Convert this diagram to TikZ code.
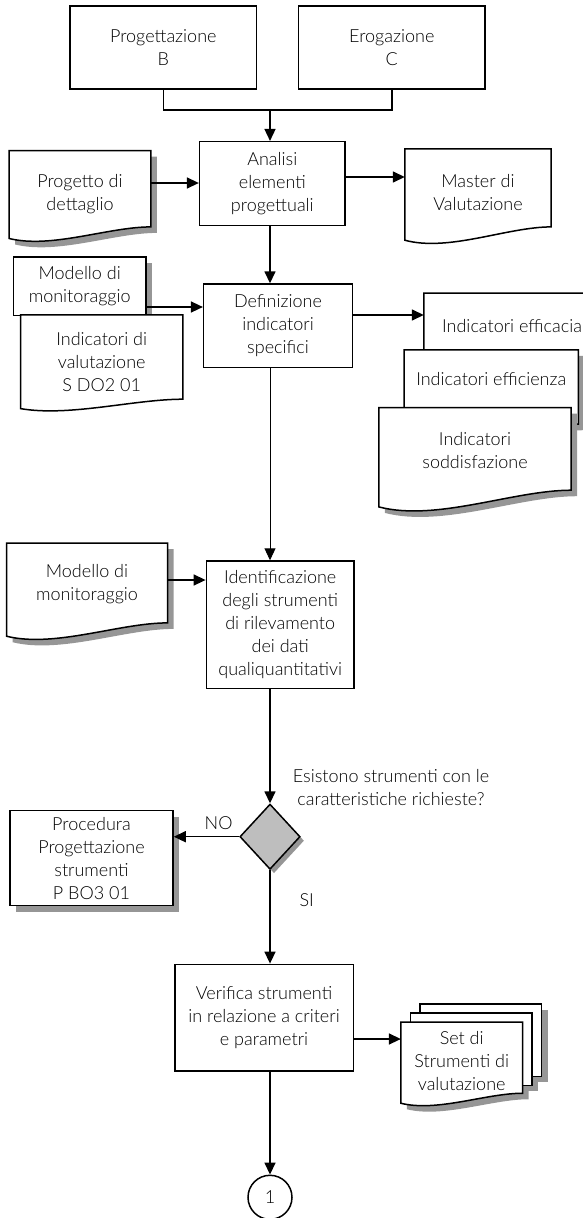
\documentclass[tikz,border=0pt]{standalone}
\usepackage{fontspec}
\setmainfont{Lato}[UprightFont=* Light]
\usepackage {tikz}
\usetikzlibrary {positioning}
\usetikzlibrary{shapes.geometric}
\usetikzlibrary{arrows.meta}
\usetikzlibrary{calc}
\usetikzlibrary{shadows}
\usetikzlibrary{backgrounds}

\definecolor{ombra}{RGB}{150,150,150}
\definecolor{rombo}{RGB}{190,190,190}

% contorno di un documento: #2 = discesa lato destro, #3 = discesa lato sinistro
\newcommand{\bordo}[3]{(#1.north west) -- (#1.north east) -- ($(#1.south east)+(0,#2)$)
  .. controls ($(#1.south west)!0.7!(#1.south east)+(0,#2)$) and ($(#1.south west)!0.3!(#1.south east)+(0,{(#3)+0.9*((#3)-(#2))})$)
  .. ($(#1.south west)+(0,#3)$) -- cycle}

\tikzset{
  testo/.style={align=center, inner sep=2pt, text=black},
  blocco/.style={testo, draw, line width=1.5pt, fill=white},
  foglio/.style={testo},
  carta/.style={draw, line width=1.5pt, fill=white},
  ombracarta/.style={fill=ombra, transform canvas={xshift=6pt, yshift=-6pt}},
  ombreggiato/.style={drop shadow={shadow xshift=6pt, shadow yshift=-6pt, fill=ombra, opacity=1}},
  linea/.style={line width=1.5pt},
  freccia/.style={linea, -{Triangle[length=12pt, width=11pt]}},
}

\begin{document}
\begin{tikzpicture}[x=1pt, y=-1pt, font=\fontsize{18}{23}\selectfont]
\useasboundingbox (0,0) rectangle (583,1218);

% processi
\node[blocco, minimum width=186.5, minimum height=83] (prog) at (163.3,47.5) {Progettazione\\B};
\node[blocco, minimum width=186.5, minimum height=83] (erog) at (391.8,47.5) {Erogazione\\C};
\node[blocco, minimum width=145.4, minimum height=84] (analisi) at (272.3,183.7) {Analisi\\elementi\\progettuali};
\node[blocco, minimum width=148.7, minimum height=83.3] (defin) at (278,325.7) {Definizione\\indicatori\\specifici};
\node[blocco, minimum width=147.7, minimum height=127.3] (ident) at (280.2,624.7) {Identificazione\\degli strumenti\\di rilevamento\\dei dati\\qualiquantitativi};
\node[blocco, ombreggiato, minimum width=163, minimum height=95] (proc) at (91.5,858.2) {Procedura\\Progettazione\\strumenti\\P BO3 01};
\node[blocco, minimum width=178.5, minimum height=106.7] (verif) at (264,1017.7) {Verifica strumenti\\in relazione a criteri\\e parametri};
\node[diamond, draw, line width=1.5pt, fill=rombo, inner sep=0pt,
  minimum width=60.3, minimum height=65.3, drop shadow={shadow xshift=4pt, shadow yshift=-4pt, fill=ombra, opacity=1}] (dec) at (270,836.7) {};
\node[circle, draw, line width=1.5pt, fill=white, testo, minimum size=44] (uno) at (270,1197.3) {1};

% documenti
\node[foglio, minimum width=141.3, minimum height=86.6] (progetto) at (80,194) {Progetto di\\dettaglio};
\node[foglio, minimum width=146, minimum height=87] (master) at (478,192.5) {Master di\\Valutazione};
\node[foglio, minimum width=132, minimum height=57.7] (modello) at (79.7,286.2) {Modello di\\monitoraggio};
\node[foglio, minimum width=162, minimum height=93.4] (indval) at (101.7,361.7) {Indicatori di\\valutazione\\S DO2 01};
\node[foglio, minimum width=176, minimum height=66] (efficacia) at (512,326.3) {Indicatori efficacia};
\node[foglio, minimum width=173.7, minimum height=58] (efficienza) at (491.2,379) {Indicatori efficienza};
\node[foglio, minimum width=192, minimum height=86.6] (soddisf) at (475,451) {Indicatori\\soddisfazione};
\node[foglio, minimum width=160.6, minimum height=82] (modello2) at (87,584.3) {Modello di\\monitoraggio};
\node[foglio, minimum width=121.3, minimum height=77.7] (setf) at (461.7,1061.2) {Set di\\Strumenti di\\valutazione};

% etichette
\node[testo] (domanda) at (391,787.5) {Esistono strumenti con le\\caratteristiche richieste?};
\node[testo] (no) at (218.6,823.3) {NO};
\node[testo] (si) at (306.7,900) {SI};

\begin{pgfonlayer}{background}
\fill[ombracarta] \bordo{progetto}{-10.6}{1};
\draw[carta] \bordo{progetto}{-10.6}{1};
\draw[carta] \bordo{master}{-9.3}{4};
\fill[ombracarta] (modello.north west) rectangle (modello.south east);
\draw[carta] (modello.north west) rectangle (modello.south east);
\draw[carta] \bordo{indval}{-9.4}{0};
\draw[carta] \bordo{efficacia}{0}{12};
\fill[ombracarta] \bordo{efficienza}{16}{32};
\draw[carta] \bordo{efficienza}{16}{32};
\fill[ombracarta] \bordo{soddisf}{-4.3}{12.4};
\draw[carta] \bordo{soddisf}{-4.3}{12.4};
\fill[ombracarta] \bordo{modello2}{-2.6}{10.7};
\draw[carta] \bordo{modello2}{-2.6}{10.7};
% pila di documenti
\fill[ombracarta] ([shift={(19pt,18.3pt)}]setf.north west) rectangle ([shift={(19pt,24pt)}]setf.south east);
\fill[ombracarta] ([shift={(9.5pt,9.3pt)}]setf.north west) rectangle ([shift={(9.5pt,15pt)}]setf.south east);
\fill[ombracarta] \bordo{setf}{-7}{3};
\draw[carta] ([shift={(19pt,18.3pt)}]setf.north west) rectangle ([shift={(19pt,24pt)}]setf.south east);
\draw[carta] ([shift={(9.5pt,9.3pt)}]setf.north west) rectangle ([shift={(9.5pt,15pt)}]setf.south east);
\draw[carta] \bordo{setf}{-7}{3};
\end{pgfonlayer}

% collegamenti
\coordinate (j) at (270,110);
\draw[linea] (prog.south) |- (j) -| (erog.south);
\draw[freccia] (j) -- (j |- analisi.north);
\draw[freccia] ([yshift=11pt]progetto.east) -- ([yshift=11pt]progetto.east -| analisi.west);
\draw[freccia] ([yshift=6.7pt]analisi.east) -- ([yshift=6.7pt]analisi.east -| master.west);
\draw[freccia] (analisi.south -| j) -- (defin.north -| j);
\draw[freccia] ([yshift=-20.8pt]modello.east) -- ([yshift=-20.8pt]modello.east -| defin.west);
\draw[freccia] ([yshift=10.7pt]defin.east) -- ([yshift=10.7pt]defin.east -| efficacia.west);
\draw[freccia, line width=0.9pt] (defin.south -| j) -- (ident.north -| j);
\draw[freccia] ([yshift=4.3pt]modello2.east) -- ([yshift=4.3pt]modello2.east -| ident.west);
\draw[freccia] (ident.south -| j) -- (dec.north);
\draw[freccia] (dec.west) -- (dec.west -| proc.east);
\draw[freccia] (dec.south) -- (dec.south |- verif.north);
\draw[freccia] ([yshift=-21.3pt]verif.east) -- ([yshift=-21.3pt]verif.east -| setf.west);
\draw[freccia] (verif.south -| j) -- (uno.north);
\end{tikzpicture}
\end{document}
